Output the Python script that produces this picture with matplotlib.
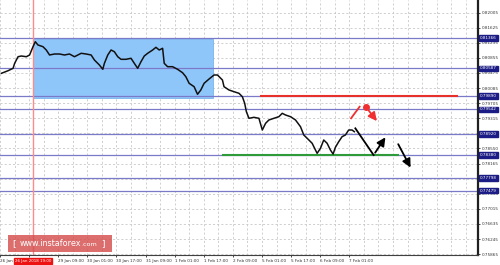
import matplotlib
matplotlib.use("Agg")
import matplotlib.pyplot as plt
from matplotlib.patches import Rectangle

# ---- data (hours of trading time, price) ----
hours = [0.77, 4.44, 7.18, 8.05, 9.92, 11.73, 14.47, 16.27, 18.14, 19.40, 20.88, 23.62,
         25.42, 27.23, 29.97, 32.71, 35.45, 38.19, 40.93, 44.60, 47.34, 50.08, 51.89,
         54.63, 56.49, 57.37, 59.23, 61.04, 62.85, 64.71, 66.52, 69.26, 72.00, 73.81,
         75.67, 77.48, 79.29, 81.15, 83.89, 85.70, 87.51, 89.37, 90.25, 92.11, 94.85,
         97.59, 100.33, 102.14, 103.95, 106.68, 108.55, 110.36, 112.16, 114.90, 117.64,
         119.51, 122.25, 123.12, 125.86, 128.60, 131.34, 133.21, 134.47, 135.40, 136.82,
         139.56, 142.30, 144.16, 145.97, 147.78, 150.52, 153.26, 155.12, 156.93, 159.67,
         162.41, 165.15, 166.96, 168.82, 171.56, 173.37, 174.30, 176.11, 177.92, 179.78,
         181.59, 183.07, 184.33, 186.14, 188.00, 189.81, 191.62, 193.48, 194.74]
prices = [0.80463, 0.80529, 0.80590, 0.80717, 0.80885, 0.80903, 0.80885, 0.80929, 0.81140,
          0.81267, 0.81183, 0.81140, 0.81056, 0.80929, 0.80954, 0.80954, 0.80929, 0.80954,
          0.80885, 0.80972, 0.80954, 0.80929, 0.80801, 0.80674, 0.80565, 0.80717, 0.80929,
          0.81056, 0.81012, 0.80885, 0.80819, 0.80819, 0.80845, 0.80717, 0.80590, 0.80758,
          0.80903, 0.80972, 0.81056, 0.81124, 0.81056, 0.81099, 0.80717, 0.80631, 0.80631,
          0.80565, 0.80478, 0.80376, 0.80208, 0.80122, 0.79929, 0.80038, 0.80208, 0.80318,
          0.80420, 0.80420, 0.80292, 0.80122, 0.80038, 0.79995, 0.79954, 0.79867, 0.79700,
          0.79486, 0.79318, 0.79343, 0.79318, 0.79020, 0.79191, 0.79275, 0.79318, 0.79359,
          0.79445, 0.79402, 0.79359, 0.79275, 0.79104, 0.78893, 0.78809, 0.78682, 0.78511,
          0.78427, 0.78554, 0.78766, 0.78682, 0.78511, 0.78409, 0.78580, 0.78722, 0.78850,
          0.78893, 0.79020, 0.79020, 0.78977]

levels = [0.81366, 0.80587, 0.79890, 0.79542, 0.78920, 0.78380, 0.77798, 0.77479]
level_labels = ["0.81366", "0.80587", "0.79890", "0.79542", "0.78920", "0.78380", "0.77798", "0.77479"]

ytick_values = [0.82005, 0.81625, 0.81235, 0.80855, 0.80475, 0.80085, 0.79705, 0.79315,
                0.78935, 0.78550, 0.78165, 0.77785, 0.77395, 0.77015, 0.76635, 0.76245, 0.75865]
# labels hidden behind level boxes in the reference are left blank
ytick_labels = ["0.82005", "0.81625", "0.81235", "0.80855", "0.80475", "0.80085", "0.79705",
                "0.79315", "", "0.78550", "0.78165", "", "0.77395", "0.77015",
                "0.76635", "0.76245", "0.75865"]

xtick_hours = [0, 16, 32, 48, 64, 80, 96, 112, 128, 144, 160, 176, 192]
xtick_labels = ["26 Jan", "", "29 Jan 09:00", "30 Jan 01:00", "30 Jan 17:00", "31 Jan 09:00",
                "1 Feb 01:00", "1 Feb 17:00", "2 Feb 09:00", "5 Feb 01:00", "5 Feb 17:00",
                "6 Feb 09:00", "7 Feb 01:00"]
vline_hour = 18.0
vline_label = "26 Jan 2018 19:00"

# zone and forecast
zone_h = [18.14, 117.1]
zone_p = [0.79840, 0.81340]
red_level_h = [143.2, 251.0]
red_level_p = 0.79890
green_level_h = [122.8, 219.0]
green_level_p = 0.78380
fc1_h = [195.29, 205.32, 212.66]
fc1_p = [0.79063, 0.78384, 0.78893]
fc2_h = [218.14, 226.36]
fc2_p = [0.78722, 0.78002]
red_up_h = [192.93, 197.64]
red_up_p = [0.79318, 0.79613]
red_dot = (201.15, 0.79613)
red_dn_h = [201.70, 208.05]
red_dn_p = [0.79572, 0.79191]

FS = 3.0

# ---- figure ----
fig = plt.figure(figsize=(5.0, 2.65), dpi=100)
ax = fig.add_axes([0.0, 1 - 255 / 265, 478 / 500, 255 / 265])
ax.set_xlim(0.77, 262.7)
ax.set_ylim(0.75840, 0.82328)

grid_kw = dict(color="#c8c8c8", lw=0.6, ls=(0, (2.5, 2.5)), zorder=0)
for t in ytick_values:
    ax.axhline(t, **grid_kw)
for h in range(0, 264, 8):
    ax.axvline(h, **grid_kw)

ax.add_patch(Rectangle((zone_h[0], zone_p[0]), zone_h[1] - zone_h[0], zone_p[1] - zone_p[0],
                       facecolor="#8fc6fa", edgecolor="#7ab4ee", lw=0.6, zorder=1))

for lv in levels:
    ax.axhline(lv, color="#7a7ac8", lw=0.9, zorder=2)

ax.axvline(vline_hour, color="#ff8a8a", lw=1.0, zorder=2)

ax.plot(red_level_h, [red_level_p] * 2, color="#e8302a", lw=1.5, zorder=3)
ax.plot(green_level_h, [green_level_p] * 2, color="#2e9a3a", lw=1.5, zorder=3)

ax.plot(hours, prices, color="#111111", lw=1.1, zorder=4)

arrow_kw = dict(arrowstyle="-|>,head_length=0.5,head_width=0.25", lw=1.3)
ax.plot(fc1_h[:2], fc1_p[:2], color="black", lw=1.3, zorder=5)
ax.annotate("", xy=(fc1_h[2], fc1_p[2]), xytext=(fc1_h[1], fc1_p[1]),
            arrowprops=dict(color="black", **arrow_kw), zorder=5)
ax.annotate("", xy=(fc2_h[1], fc2_p[1]), xytext=(fc2_h[0], fc2_p[0]),
            arrowprops=dict(color="black", **arrow_kw), zorder=5)
ax.plot(red_up_h, red_up_p, color="#f03030", lw=1.3, zorder=5)
ax.plot([red_dot[0]], [red_dot[1]], "o", color="#f03030", ms=4, zorder=5)
ax.annotate("", xy=(red_dn_h[1], red_dn_p[1]), xytext=(red_dn_h[0], red_dn_p[0]),
            arrowprops=dict(color="#f03030", **arrow_kw), zorder=5)

# axes styling
for s in ["top", "left"]:
    ax.spines[s].set_visible(False)
ax.spines["right"].set_color("#202020")
ax.spines["right"].set_linewidth(1.6)
ax.spines["bottom"].set_color("#404040")
ax.spines["bottom"].set_linewidth(0.8)

ax.yaxis.tick_right()
ax.set_yticks(ytick_values)
ax.set_yticklabels(ytick_labels, fontsize=FS, color="#333333")
ax.tick_params(axis="y", length=1.5, width=0.5, pad=1.0)

ax.set_xticks(xtick_hours)
ax.set_xticklabels(xtick_labels, fontsize=FS, color="#333333", ha="left")
ax.tick_params(axis="x", length=1.5, width=0.5, pad=1.2)

# level labels on the right axis
for lv, lab in zip(levels, level_labels):
    ax.annotate(lab, xy=(1.0, lv), xycoords=("axes fraction", "data"),
                xytext=(1.3, 0), textcoords="offset points", fontsize=FS, color="white",
                va="center", ha="left",
                bbox=dict(boxstyle="square,pad=0.2", facecolor="#1c1c86", edgecolor="#1c1c86"),
                annotation_clip=False, zorder=10)

# vertical line date label
ax.annotate(vline_label, xy=(vline_hour, 0), xycoords=("data", "axes fraction"),
            xytext=(0, -4.3), textcoords="offset points", fontsize=2.9, color="white",
            ha="center", va="center",
            bbox=dict(boxstyle="square,pad=0.2", facecolor="#ee1111", edgecolor="#ee1111"),
            annotation_clip=False, zorder=10)

# watermark
fig.patches.append(Rectangle((8 / 500, 1 - 252 / 265), 104 / 500, 17 / 265, transform=fig.transFigure,
                             facecolor="#d44a4a", alpha=0.8, edgecolor="none", zorder=20))
fig.canvas.draw()
renderer = fig.canvas.get_renderer()
ymid = 1 - 244 / 265
x = 12 / 500
parts = [("[", 6.5, 0.0), ("www.instaforex", 5.8, 4 / 500), (".com", 4.6, 0.0), ("]", 6.5, 4 / 500)]
for txt, fs, gap in parts:
    x += gap
    t = fig.text(x, ymid, txt, transform=fig.transFigure, fontsize=fs, color="white",
                 va="center", ha="left", zorder=21)
    bb = t.get_window_extent(renderer=renderer)
    x = bb.x1 / fig.bbox.width

fig.savefig("out.png", dpi=100, facecolor="white")
